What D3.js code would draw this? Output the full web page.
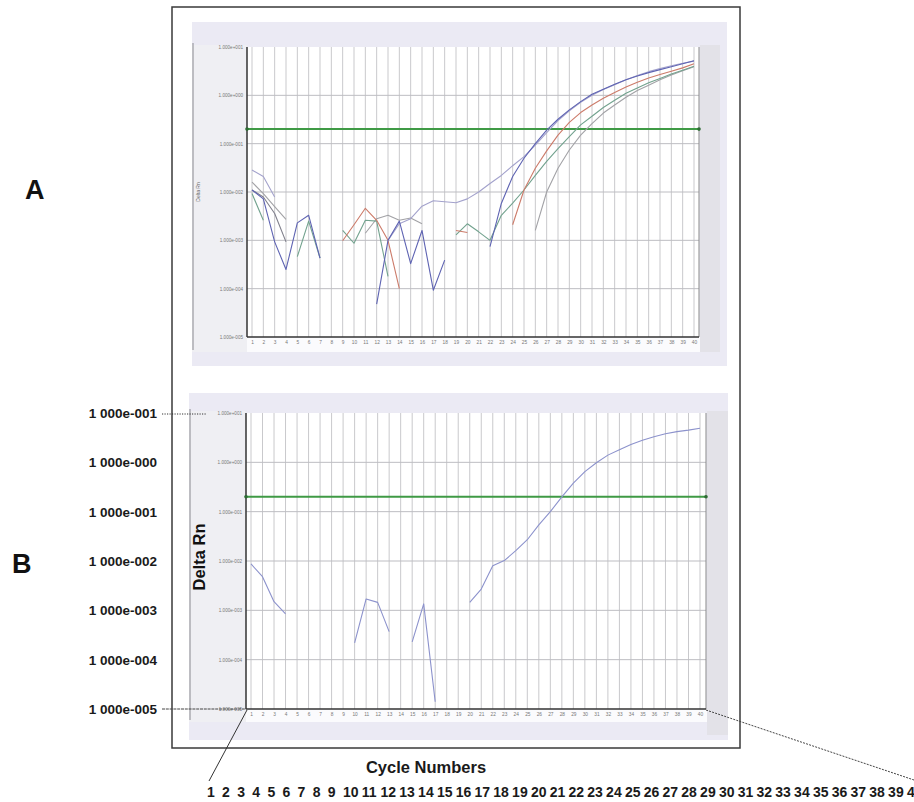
<!DOCTYPE html>
<html><head><meta charset="utf-8">
<script src="https://cdn.jsdelivr.net/npm/d3@7"></script>
<style>body{margin:0;background:#fff}svg{display:block}</style>
</head><body>
<svg id="c" width="914" height="802"></svg>
<script>
// ---------- data ----------
const cycles = d3.range(1, 41);
const decades = [1e1, 1e0, 1e-1, 1e-2, 1e-3, 1e-4, 1e-5];
const yTickLabels = ["1.000e+001","1.000e+000","1.000e-001","1.000e-002","1.000e-003","1.000e-004","1.000e-005"];
const outerTickLabels = ["1 000e-001","1 000e-000","1 000e-001","1 000e-002","1 000e-003","1 000e-004","1 000e-005"];
const threshold = 0.2;
const n = null;
// Panel A series (Delta Rn per cycle 1..40)
const blueA = [1.1e-2,7.2e-3,9.3e-4,2.5e-4,2.3e-3,3.3e-3,4.3e-4,n,n,n,n,4.8e-5,1.0e-3,2.5e-3,3.3e-4,1.6e-3,9.3e-5,3.9e-4,n,n,n,7.4e-4,5.8e-3,2.1e-2,5.0e-2,0.10,0.19,0.32,0.50,0.74,1.05,1.33,1.7,2.1,2.5,2.95,3.4,3.9,4.5,5.2];
const lavenderA = [2.85e-2,2.1e-2,7.9e-3,n,n,n,n,n,n,n,n,n,1.0e-3,2.2e-3,2.8e-3,5.1e-3,6.6e-3,6.3e-3,6.0e-3,7.2e-3,1.0e-2,1.5e-2,2.2e-2,3.5e-2,5.4e-2,9.3e-2,0.17,0.30,0.48,0.72,1.0,1.32,1.66,2.09,2.57,3.09,3.6,4.1,4.6,5.1];
const redA = [n,n,n,n,n,n,n,n,9.8e-4,2.1e-3,4.6e-3,2.6e-3,1.0e-3,1.0e-4,n,n,n,n,1.6e-3,1.45e-3,n,n,n,2.1e-3,1.1e-2,3.1e-2,7.1e-2,0.15,0.275,0.44,0.63,0.87,1.15,1.48,1.86,2.29,2.69,3.16,3.7,4.5];
const greenA = [9.3e-3,2.6e-3,n,n,4.6e-4,2.5e-3,4.3e-4,n,1.6e-3,8.7e-4,2.6e-3,2.5e-3,1.8e-4,n,n,n,n,n,1.3e-3,2.2e-3,1.5e-3,1.0e-3,3.3e-3,5.9e-3,1.1e-2,2.2e-2,4.3e-2,7.9e-2,0.14,0.245,0.37,0.56,0.79,1.1,1.41,1.82,2.24,2.75,3.3,4.0];
const grayA = [1.6e-2,9.3e-3,5.0e-3,2.7e-3,n,n,n,n,n,n,1.4e-3,2.8e-3,3.3e-3,2.6e-3,2.9e-3,2.2e-3,n,n,n,n,n,n,n,n,n,1.6e-3,1.0e-2,3.1e-2,7.4e-2,0.15,0.26,0.43,0.63,0.91,1.26,1.62,2.09,2.63,3.24,3.9];
const darkGrayA = [1.1e-2,7.9e-3,3.6e-3,9.3e-4,n,n,n,n,n,n,n,n,n,n,n,n,n,n,n,n,n,n,n,n,n,n,n,n,n,n,n,n,n,n,n,n,n,n,n,n];
// Panel B series
const blueB = [8.7e-3,4.8e-3,1.5e-3,8.5e-4,n,n,n,n,n,2.2e-4,1.7e-3,1.45e-3,3.7e-4,n,2.3e-4,1.35e-3,1.4e-5,n,n,1.45e-3,2.7e-3,8.0e-3,1.02e-2,1.62e-2,2.7e-2,5.4e-2,0.10,0.20,0.38,0.65,0.98,1.4,1.8,2.3,2.8,3.3,3.8,4.2,4.5,4.9];

const seriesA = [
  {v: grayA, c: "#a2a2a6"},
  {v: darkGrayA, c: "#80808c"},
  {v: greenA, c: "#72a28e"},
  {v: redA, c: "#cc7b6a"},
  {v: lavenderA, c: "#a3a2cc"},
  {v: blueA, c: "#5e63b2"}
];
const seriesB = [{v: blueB, c: "#8c92cc"}];

// ---------- drawing ----------
const svg = d3.select("#c");
const font = "Arial, 'Liberation Sans', sans-serif";

svg.append("rect").attr("x",172).attr("y",7).attr("width",568).attr("height",741)
  .attr("fill","#fff").attr("stroke","#3a3a3a").attr("stroke-width",1.5);

function panel(cfg, series) {
  const g = svg.append("g");
  g.append("rect").attr("x",cfg.px0).attr("y",cfg.py0).attr("width",cfg.px1-cfg.px0).attr("height",cfg.py1-cfg.py0).attr("fill","#ebeaf4");
  g.append("rect").attr("x",cfg.px0).attr("y",cfg.top-2).attr("width",cfg.left-cfg.px0).attr("height",cfg.bandY-cfg.top+2).attr("fill","#efeff3");
  g.append("rect").attr("x",cfg.left).attr("y",cfg.bottom).attr("width",cfg.right-cfg.left+1).attr("height",cfg.bandY-cfg.bottom).attr("fill","#fbfbfd");
  g.append("rect").attr("x",cfg.right+1).attr("y",cfg.top-2).attr("width",cfg.stripR-cfg.right-1).attr("height",cfg.stripB-cfg.top+2).attr("fill","#e3e2e8");
  g.append("line").attr("x1",cfg.px0+1).attr("x2",cfg.px0+1).attr("y1",cfg.top-4).attr("y2",cfg.bandY-2).attr("stroke","#8a8a90").attr("stroke-width",1);
  g.append("rect").attr("x",cfg.left).attr("y",cfg.top).attr("width",cfg.right-cfg.left).attr("height",cfg.bottom-cfg.top).attr("fill","#fff");

  const x = d3.scaleLinear().domain([1,40]).range([cfg.x1, cfg.x40]);
  const y = d3.scaleLog().domain([1e-5,1e1]).range([cfg.bottom, cfg.top]);

  g.append("g").selectAll("line").data(cycles).join("line")
    .attr("x1",d=>x(d)).attr("x2",d=>x(d)).attr("y1",cfg.top).attr("y2",cfg.bottom)
    .attr("stroke","#c9c9cc").attr("stroke-width",1);
  g.append("g").selectAll("line").data(decades.slice(1,-1)).join("line")
    .attr("x1",cfg.left).attr("x2",cfg.right).attr("y1",d=>y(d)).attr("y2",d=>y(d))
    .attr("stroke","#bdbdc2").attr("stroke-width",1);

  g.append("line").attr("x1",cfg.right).attr("x2",cfg.right).attr("y1",cfg.top).attr("y2",cfg.bottom).attr("stroke","#888").attr("stroke-width",1);
  g.append("line").attr("x1",cfg.left).attr("x2",cfg.left).attr("y1",cfg.top).attr("y2",cfg.bottom).attr("stroke","#333").attr("stroke-width",1.5);
  g.append("line").attr("x1",cfg.left).attr("x2",cfg.right).attr("y1",cfg.bottom).attr("y2",cfg.bottom).attr("stroke","#333").attr("stroke-width",1.5);

  const yAxis = d3.axisLeft(y).tickValues(decades).tickSize(0).tickPadding(4)
    .tickFormat(d=>yTickLabels[decades.indexOf(d)]);
  const ya = g.append("g").attr("transform",`translate(${cfg.left},0)`).call(yAxis);
  ya.select(".domain").remove();
  ya.selectAll("text").attr("font-size",4.6).attr("fill","#777").attr("font-family",font);
  const xAxis = d3.axisBottom(x).tickValues(cycles).tickSize(0).tickPadding(4).tickFormat(d3.format("d"));
  const xa = g.append("g").attr("transform",`translate(0,${cfg.bottom})`).call(xAxis);
  xa.select(".domain").remove();
  xa.selectAll("text").attr("font-size",4.8).attr("fill","#777").attr("font-family",font);

  g.append("line").attr("x1",cfg.left).attr("x2",cfg.right).attr("y1",y(threshold)).attr("y2",y(threshold))
    .attr("stroke","#3f9a45").attr("stroke-width",2);
  g.selectAll("circle.th").data([cfg.left,cfg.right]).join("circle")
    .attr("cx",d=>d).attr("cy",y(threshold)).attr("r",1.8).attr("fill","#2d6b33");

  const line = d3.line().defined(d=>d[1]!=null).x(d=>x(d[0])).y(d=>y(d[1]));
  series.forEach(s=>{
    g.append("path").datum(cycles.map((c,i)=>[c,s.v[i]]))
      .attr("d",line).attr("fill","none").attr("stroke",s.c).attr("stroke-width",1.1)
      .attr("stroke-linejoin","round");
  });
  return {x,y};
}

const A = panel({px0:192,py0:22,px1:727,py1:366,left:247,right:699,top:47,bottom:337,x1:252,x40:694,bandY:352,stripR:720,stripB:352}, seriesA);
const B = panel({px0:189,py0:393,px1:728,py1:740,left:246,right:706,top:413,bottom:709,x1:251,x40:700,bandY:722,stripR:728,stripB:735}, seriesB);

svg.append("text").attr("transform","translate(200,192) rotate(-90)").attr("text-anchor","middle")
  .attr("font-size",5).attr("fill","#666").attr("font-family",font).text("Delta Rn");
svg.append("text").attr("transform","translate(205,557) rotate(-90)").attr("text-anchor","middle")
  .attr("font-size",16.5).attr("font-weight","bold").attr("fill","#111").attr("font-family",font).text("Delta Rn");

svg.append("text").attr("x",25).attr("y",199).attr("font-size",27).attr("font-weight","bold").attr("font-family",font).attr("fill","#111").text("A");
svg.append("text").attr("x",12).attr("y",573).attr("font-size",27).attr("font-weight","bold").attr("font-family",font).attr("fill","#111").text("B");

svg.append("g").selectAll("text").data(decades).join("text")
  .attr("x",157).attr("y",d=>B.y(d)+5).attr("text-anchor","end")
  .attr("font-size",13.5).attr("font-weight","bold").attr("font-family",font).attr("fill","#1a1a1a")
  .text((d,i)=>outerTickLabels[i]);

svg.append("line").attr("x1",162).attr("x2",206).attr("y1",B.y(1e1)+1).attr("y2",B.y(1e1)+1)
  .attr("stroke","#333").attr("stroke-width",1).attr("stroke-dasharray","1.2,1.3");
svg.append("line").attr("x1",162).attr("x2",246).attr("y1",B.y(1e-5)).attr("y2",B.y(1e-5))
  .attr("stroke","#444").attr("stroke-width",1).attr("stroke-dasharray","3,0.8");
svg.append("line").attr("x1",247).attr("y1",710).attr("x2",209).attr("y2",781)
  .attr("stroke","#333").attr("stroke-width",1);
svg.append("line").attr("x1",706).attr("y1",710).attr("x2",914).attr("y2",780)
  .attr("stroke","#444").attr("stroke-width",1).attr("stroke-dasharray","2,1.2");

svg.append("text").attr("x",426).attr("y",773).attr("text-anchor","middle")
  .attr("font-size",16.5).attr("font-weight","bold").attr("font-family",font).attr("fill","#1a1a1a").text("Cycle Numbers");

// enlarged cycle numbers row (single text, one tspan per number)
const numStart = 207, stepSingle = 15.1, stepDouble = 18.8;
const numX = cycles.map(c => c <= 10 ? numStart + (c-1)*stepSingle : numStart + 9*stepSingle + (c-10)*stepDouble);
const row = svg.append("text").attr("y",797).attr("font-size",14).attr("font-weight","bold")
  .attr("font-family",font).attr("fill","#1a1a1a");
row.selectAll("tspan").data(cycles).join("tspan").attr("x",(d,i)=>numX[i]).text(d=>d);
</script>
</body></html>
